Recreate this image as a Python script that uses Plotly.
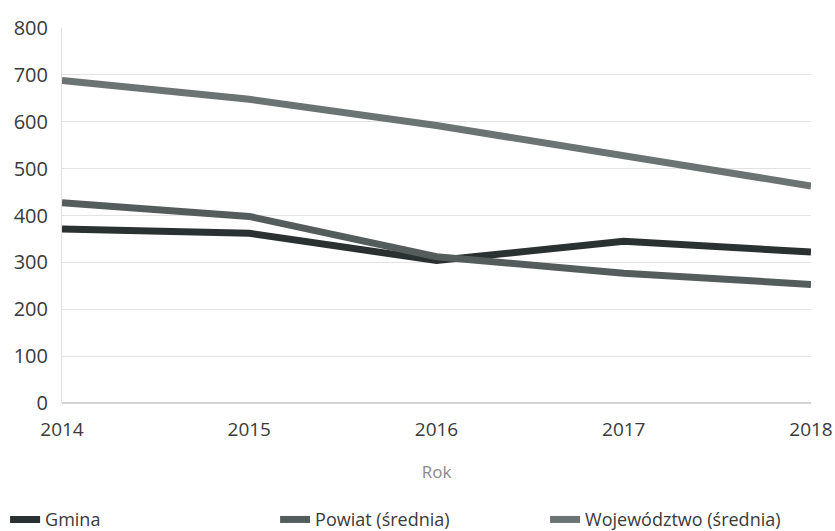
import plotly.graph_objects as go

years = [2014, 2015, 2016, 2017, 2018]
gmina = [371, 362, 304, 345, 322]
powiat = [427, 398, 312, 277, 253]
wojewodztwo = [688, 648, 592, 527, 463]

series = [
    ("Gmina", gmina, "#2b3030"),
    ("Powiat (średnia)", powiat, "#555d5c"),
    ("Województwo (średnia)", wojewodztwo, "#6b7473"),
]

fig = go.Figure()
for name, vals, col in series:
    fig.add_trace(go.Scatter(x=years, y=vals, mode="lines", name=name,
                             line=dict(color=col, width=7)))

fig.update_layout(
    width=835, height=531,
    margin=dict(l=62, r=24, t=28, b=128, autoexpand=False),
    paper_bgcolor="white", plot_bgcolor="white",
    font=dict(family="Open Sans", size=18, color="#3a3a3a"),
    showlegend=True,
    legend=dict(orientation="h", x=-0.076, xanchor="left", y=-0.262, yanchor="top",
                entrywidth=225, entrywidthmode="pixels",
                font=dict(size=18, color="#3a3a3a"), itemwidth=30),
    xaxis=dict(range=[2014, 2018], tickvals=years, ticktext=[str(y) for y in years],
               showgrid=False, showline=False, zeroline=False, automargin=False,
               ticks="", ticklabelstandoff=13, tickfont=dict(size=19),
               title=dict(text="Rok", font=dict(size=17, color="#8a8a8a"), standoff=25)),
    yaxis=dict(range=[0, 800], tickvals=list(range(0, 801, 100)), automargin=False,
               showgrid=True, gridcolor="#e3e3e3", gridwidth=1,
               zeroline=True, zerolinecolor="#d4d4d4", zerolinewidth=1.5,
               showline=True, linecolor="#e0e0e0", linewidth=1,
               ticks="", ticklabelstandoff=9, tickfont=dict(size=20)),
)
fig.write_html("out.html", config={"displayModeBar": False},
               post_script="document.body.style.margin='0';document.body.style.overflow='hidden';")
